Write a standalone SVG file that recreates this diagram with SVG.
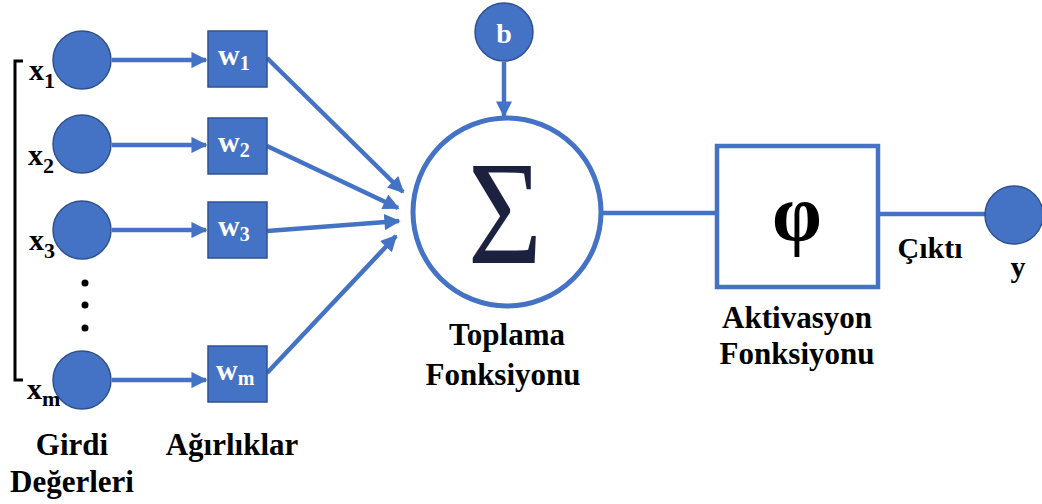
<svg xmlns="http://www.w3.org/2000/svg" width="1042" height="504" viewBox="0 0 1042 504">
  <style>
    .dot { fill: #4472C4; stroke: #2F528F; stroke-width: 1.5; }
    .wbox { fill: #4472C4; stroke: #2F528F; stroke-width: 1.5; }
    .link { stroke: #4472C4; stroke-width: 4.5; fill: none; }
  </style>
  <defs>
    <marker id="arrow" viewBox="0 0 10 10" refX="9" refY="5" markerWidth="4" markerHeight="3.6" orient="auto" markerUnits="strokeWidth">
      <path d="M0,0 L10,5 L0,10 Z" fill="#4472C4"/>
    </marker>
  </defs>
  <rect width="1042" height="504" fill="#fff"/>

  <!-- bracket grouping the inputs -->
  <path d="M23,61 L15,61 L15,380 L23,380" fill="none" stroke="#000" stroke-width="3"/>

  <g id="connectors">
    <line class="link" x1="112" y1="60" x2="206" y2="60" marker-end="url(#arrow)"/>
    <line class="link" x1="112" y1="145" x2="206" y2="145" marker-end="url(#arrow)"/>
    <line class="link" x1="112" y1="230" x2="206" y2="230" marker-end="url(#arrow)"/>
    <line class="link" x1="112" y1="380" x2="206" y2="380" marker-end="url(#arrow)"/>
    <line class="link" x1="267" y1="58" x2="403" y2="192" marker-end="url(#arrow)"/>
    <line class="link" x1="267" y1="146" x2="398" y2="208" marker-end="url(#arrow)"/>
    <line class="link" x1="267" y1="231" x2="399" y2="221" marker-end="url(#arrow)"/>
    <line class="link" x1="267" y1="373" x2="396" y2="236" marker-end="url(#arrow)"/>
    <line class="link" x1="504" y1="62" x2="504" y2="116" marker-end="url(#arrow)"/>
    <line class="link" x1="602" y1="213" x2="718" y2="213"/>
    <line class="link" x1="878" y1="214" x2="986" y2="214"/>
  </g>

  <!-- inputs -->
  <g id="x1"><circle class="dot" cx="82" cy="60" r="29"/>
    <text font-family="Liberation Serif" font-weight="bold" fill="#000" x="29" y="80" font-size="30">x<tspan font-size="22" dy="8">1</tspan></text></g>
  <g id="x2"><circle class="dot" cx="82" cy="144" r="29"/>
    <text font-family="Liberation Serif" font-weight="bold" fill="#000" x="28" y="165" font-size="30">x<tspan font-size="22" dy="8">2</tspan></text></g>
  <g id="x3"><circle class="dot" cx="82" cy="230" r="29"/>
    <text font-family="Liberation Serif" font-weight="bold" fill="#000" x="29" y="250" font-size="30">x<tspan font-size="22" dy="8">3</tspan></text></g>
  <g id="ellipsis">
    <circle cx="85" cy="283" r="3.5" fill="#000"/>
    <circle cx="85" cy="305" r="3.5" fill="#000"/>
    <circle cx="85" cy="328" r="3.5" fill="#000"/>
  </g>
  <g id="xm"><circle class="dot" cx="82" cy="380" r="29"/>
    <text font-family="Liberation Serif" font-weight="bold" fill="#000" x="27" y="399" font-size="30">x<tspan font-size="22" dy="7">m</tspan></text></g>

  <!-- weights -->
  <g id="w1"><rect class="wbox" x="208" y="31" width="59" height="56"/>
    <text font-family="Liberation Serif" font-weight="bold" fill="#fff" x="218" y="65" font-size="30">w<tspan font-size="20" dy="5">1</tspan></text></g>
  <g id="w2"><rect class="wbox" x="208" y="118" width="59" height="56"/>
    <text font-family="Liberation Serif" font-weight="bold" fill="#fff" x="218" y="152" font-size="30">w<tspan font-size="20" dy="5">2</tspan></text></g>
  <g id="w3"><rect class="wbox" x="208" y="202" width="59" height="56"/>
    <text font-family="Liberation Serif" font-weight="bold" fill="#fff" x="218" y="236" font-size="30">w<tspan font-size="20" dy="5">3</tspan></text></g>
  <g id="wm"><rect class="wbox" x="208" y="346" width="59" height="56"/>
    <text font-family="Liberation Serif" font-weight="bold" fill="#fff" x="216" y="380" font-size="30">w<tspan font-size="20" dy="5">m</tspan></text></g>

  <!-- bias -->
  <g id="bias"><circle class="dot" cx="504" cy="32" r="29"/>
    <text font-family="Liberation Serif" font-weight="bold" fill="#fff" x="504" y="43" font-size="28" text-anchor="middle">b</text></g>

  <!-- summation -->
  <g id="sum">
    <circle cx="507" cy="212" r="94" fill="#fff" stroke="#4472C4" stroke-width="5"/>
    <text x="505" y="229" transform="scale(1,1.15)" font-family="Liberation Serif" font-size="128" fill="#1C2140" text-anchor="middle">Σ</text>
    <text font-family="Liberation Serif" font-weight="bold" fill="#000" x="507" y="345" font-size="31" text-anchor="middle">Toplama</text>
    <text font-family="Liberation Serif" font-weight="bold" fill="#000" x="503" y="385" font-size="31" text-anchor="middle">Fonksiyonu</text>
  </g>

  <!-- activation -->
  <g id="activation">
    <rect x="717" y="146" width="161" height="141" fill="#fff" stroke="#4472C4" stroke-width="4.5"/>
    <text font-family="Liberation Serif" font-weight="bold" fill="#000" x="797" y="240" font-size="80" text-anchor="middle">φ</text>
    <text font-family="Liberation Serif" font-weight="bold" fill="#000" x="797" y="328" font-size="31" text-anchor="middle">Aktivasyon</text>
    <text font-family="Liberation Serif" font-weight="bold" fill="#000" x="797" y="364" font-size="31" text-anchor="middle">Fonksiyonu</text>
  </g>

  <!-- output -->
  <g id="output">
    <circle class="dot" cx="1014" cy="215" r="29"/>
    <text font-family="Liberation Serif" font-weight="bold" fill="#000" x="930" y="258" font-size="30" text-anchor="middle">Çıktı</text>
    <text font-family="Liberation Serif" font-weight="bold" fill="#000" x="1018" y="277" font-size="30" text-anchor="middle">y</text>
  </g>

  <!-- column captions -->
  <g id="captions">
    <text font-family="Liberation Serif" font-weight="bold" fill="#000" x="72" y="455" font-size="31" text-anchor="middle">Girdi</text>
    <text font-family="Liberation Serif" font-weight="bold" fill="#000" x="72" y="492" font-size="31" text-anchor="middle">Değerleri</text>
    <text font-family="Liberation Serif" font-weight="bold" fill="#000" x="232" y="455" font-size="31" text-anchor="middle">Ağırlıklar</text>
  </g>
</svg>
